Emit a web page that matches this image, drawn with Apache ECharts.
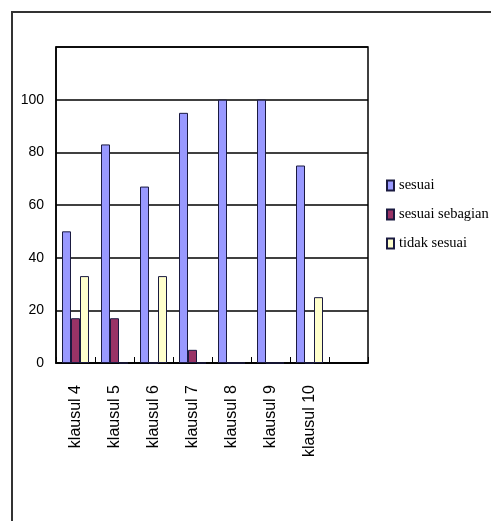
<!DOCTYPE html>
<html>
<head>
<meta charset="utf-8">
<script src="https://cdn.jsdelivr.net/npm/echarts@6/dist/echarts.min.js"></script>
<style>
  html, body { margin: 0; padding: 0; background: #fff; }
  #chart { width: 491px; height: 521px; }
</style>
</head>
<body>
<div id="chart"></div>
<script>
// categories (last slot is empty in the original chart)
var categories = ['klausul 4', 'klausul 5', 'klausul 6', 'klausul 7', 'klausul 8', 'klausul 9', 'klausul 10', ''];
var sesuai = [50, 83, 67, 95, 100, 100, 75, null];
var sesuaiSebagian = [17, 17, 0, 5, 0, 0, 0, null];
var tidakSesuai = [33, 0, 33, 0, 0, 0, 25, null];
var yTicks = [0, 20, 40, 60, 80, 100];

var chart = echarts.init(document.getElementById('chart'));

function barSeries (name, data, color) {
  return {
    name: name,
    type: 'bar',
    data: data,
    barWidth: 9,
    barGap: '0%',
    itemStyle: { color: color, borderColor: '#1a1a40', borderWidth: 1 }
  }
}

var option = {
  animation: false,
  backgroundColor: '#fff',
  graphic: [
    {
      type: 'rect',
      shape: { x: 12, y: 12, width: 500, height: 540 },
      style: { fill: 'none', stroke: '#333', lineWidth: 2 },
      silent: true
    }
  ],
  legend: {
    orient: 'vertical',
    left: 381,
    top: 173,
    itemWidth: 7,
    itemHeight: 10,
    itemGap: 14,
    icon: 'rect',
    textStyle: { fontFamily: 'Liberation Serif', fontSize: 14.5, color: '#000' },
    data: ['sesuai', 'sesuai sebagian', 'tidak sesuai']
  },
  grid: {
    left: 56,
    right: 123,
    top: 47,
    bottom: 158,
    show: true,
    borderColor: '#000',
    borderWidth: 1.5,
    backgroundColor: '#fff'
  },
  xAxis: {
    type: 'category',
    data: categories,
    axisLine: { lineStyle: { color: '#000', width: 1.5 } },
    axisTick: { show: true, inside: true, length: 6, lineStyle: { color: '#000' } },
    axisLabel: {
      rotate: 90,
      interval: 0,
      margin: 22,
      fontFamily: 'Liberation Sans',
      fontSize: 16,
      color: '#000'
    }
  },
  yAxis: {
    type: 'value',
    min: 0,
    max: 120,
    interval: 20,
    axisLine: { show: true, lineStyle: { color: '#000', width: 1.5 } },
    axisTick: { show: false },
    splitLine: { lineStyle: { color: '#000', width: 1.5 } },
    axisLabel: {
      margin: 12,
      fontFamily: 'Liberation Sans',
      fontSize: 14,
      color: '#000',
      formatter: function (v) { return yTicks.indexOf(v) >= 0 ? String(v) : ''; }
    }
  },
  series: [
    barSeries('sesuai', sesuai, '#9999FF'),
    barSeries('sesuai sebagian', sesuaiSebagian, '#993366'),
    barSeries('tidak sesuai', tidakSesuai, '#FFFFCC')
  ]
};

chart.setOption(option);
</script>
</body>
</html>
